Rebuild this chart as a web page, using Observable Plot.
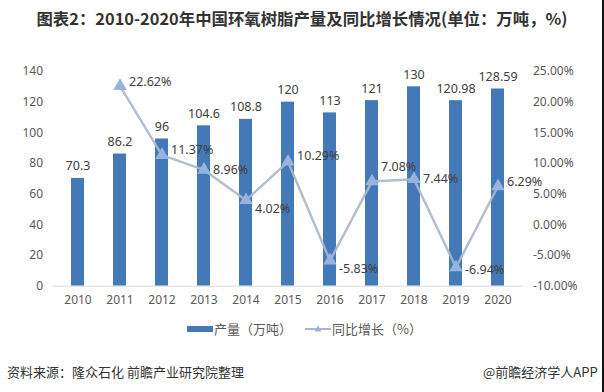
<!DOCTYPE html>
<html>
<head>
<meta charset="utf-8">
<script src="https://cdn.jsdelivr.net/npm/d3@7"></script>
<script src="https://cdn.jsdelivr.net/npm/@observablehq/plot@0.6"></script>
<style>
  html, body { margin: 0; padding: 0; background: #fff; }
  body { width: 604px; height: 392px; overflow: hidden; position: relative;
         font-family: "Noto Sans", "Noto Sans CJK SC", sans-serif; }
  #title { height: 38px; line-height: 36px; text-align: center; font-weight: bold; white-space: nowrap;
           font-size: 16.4px; color: #333; font-family: "Noto Sans CJK SC", sans-serif; letter-spacing: 0px; }
  #legend { position: absolute; top: 318px; left: 0; width: 604px; height: 20px; font-size: 13px; color: #595959;
            font-family: "Noto Sans CJK SC", sans-serif; }
  .item { position: absolute; top: 0; display: flex; align-items: center; height: 20px; }
  #footer { position: absolute; top: 362px; left: 0; width: 604px; height: 20px; font-size: 13px; color: #333;
            font-family: "Noto Sans CJK SC", sans-serif; }
  #edge { position: absolute; top: 0; right: 0; width: 2px; height: 392px; background: #111; }
</style>
</head>
<body>
<div id="title">图表2：2010-2020年中国环氧树脂产量及同比增长情况(单位：万吨，%)</div>
<div id="chart"></div>
<div id="legend"></div>
<div id="footer"></div>
<script>
const years = ["2010","2011","2012","2013","2014","2015","2016","2017","2018","2019","2020"];
const output = [70.3, 86.2, 96, 104.6, 108.8, 120, 113, 121, 130, 120.98, 128.59];
const growth = [null, 22.62, 11.37, 8.96, 4.02, 10.29, -5.83, 7.08, 7.44, -6.94, 6.29];
const leftTicks = [0, 20, 40, 60, 80, 100, 120, 140];
const rightTicks = [-10, -5, 0, 5, 10, 15, 20, 25];
const labelDy = [0, -4, -5, 0, 9, -6, 8, -14, 0, 3, -4];

const barColor = "#4479b8";
const lineColor = "#a9b8cc";
const markColor = "#97b4de";

// map percent onto the left (production) scale: -10% -> 0, 25% -> 140
const pct = p => (p + 10) * 4;

const bars = years.map((y, i) => ({year: y, value: output[i]}));
const pts = years.map((y, i) => ({year: y, g: growth[i]})).filter(d => d.g != null);

const plot = Plot.plot({
  width: 604,
  height: 277,
  marginTop: 33,
  marginBottom: 29.3,
  marginLeft: 52.5,
  marginRight: 81.5,
  style: {fontFamily: '"Noto Sans", "Noto Sans CJK SC", sans-serif', fontSize: "12px", color: "#595959", background: "transparent"},
  x: {domain: years, type: "band", paddingInner: 0.695, paddingOuter: 0.3475, label: null},
  y: {domain: [0, 140], label: null},
  marks: [
    Plot.barY(bars, {x: "year", y: "value", fill: barColor}),
    Plot.ruleY([0], {stroke: "#d9d9d9", strokeWidth: 1}),
    Plot.axisX({tickSize: 0, tickPadding: 9, fontSize: 12, fill: "#595959"}),
    Plot.axisY({ticks: leftTicks, tickSize: 0, tickPadding: 10, fontSize: 12, fill: "#595959", label: null}),
    Plot.axisY({anchor: "right", ticks: rightTicks.map(pct), tickFormat: d => (d / 4 - 10).toFixed(2) + "%",
                tickSize: 0, tickPadding: 10, fontSize: 12, fill: "#595959", label: null}),
    Plot.text(bars, {x: "year", y: "value", text: d => String(d.value), dy: -12, fontSize: 12.5, fill: "#404040"}),
    Plot.line(pts, {x: "year", y: d => pct(d.g), stroke: lineColor, strokeWidth: 2.5, strokeOpacity: 0.9}),
    Plot.dot(pts, {x: "year", y: d => pct(d.g), symbol: "triangle", r: 5, fill: markColor}),
    ...pts.map(d => Plot.text([d], {x: "year", y: v => pct(v.g), text: v => v.g.toFixed(2) + "%",
        textAnchor: "start", dx: 9, dy: labelDy[years.indexOf(d.year)], fontSize: 12.5, fill: "#404040"}))
  ]
});
document.getElementById("chart").appendChild(plot);

// legend
const legend = document.getElementById("legend");
legend.innerHTML = `
  <div class="item" style="left:187px"><svg width="26" height="20"><rect x="0" y="8" width="26" height="6" fill="${barColor}"/></svg><span style="margin-left:1px">产量（万吨）</span></div>
  <div class="item" style="left:305px"><svg width="26" height="20"><line x1="0" y1="11" x2="26" y2="11" stroke="${lineColor}" stroke-width="2"/><path d="M13,7.5 L16.5,13.5 L9.5,13.5 Z" fill="${markColor}"/></svg><span style="margin-left:1px">同比增长（%）</span></div>`;

// footer
document.getElementById("footer").innerHTML = `
  <span style="position:absolute;left:7px;top:0">资料来源：隆众石化 前瞻产业研究院整理</span>
  <span style="position:absolute;left:483px;top:0;white-space:nowrap">@前瞻经济学人APP</span>`;
</script>
<div id="edge"></div>
</body>
</html>
